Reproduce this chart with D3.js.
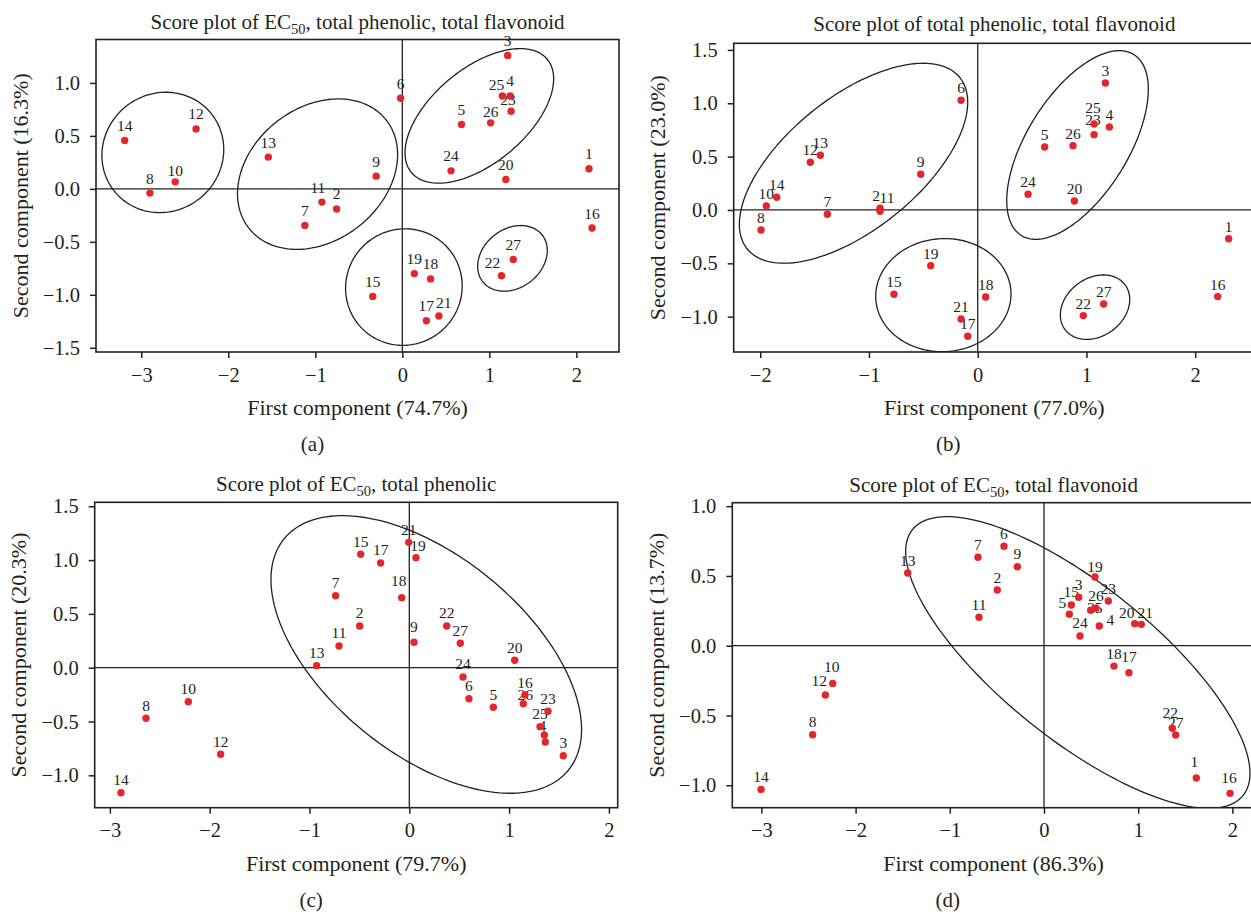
<!DOCTYPE html>
<html>
<head>
<meta charset="utf-8">
<script src="https://cdn.jsdelivr.net/npm/d3@7.9.0/dist/d3.min.js"></script>
<style>
  body { margin: 0; background: #fff; }
  svg text { font-family: "Liberation Serif", "Times New Roman", serif; fill: #231f20; }
</style>
</head>
<body>
<svg id="chart" width="1251" height="912"></svg>
<script>
// sample numbers
const samples = d3.range(1, 28);

// (a) EC50, total phenolic, total flavonoid
const pc1A = [2.145, -0.755, 1.21, 1.24, 0.68, -0.02, -1.12, -2.90, -0.30, -2.61, -0.924, -2.37, -1.54, -3.19,
  -0.34, 2.18, 0.276, 0.325, 0.138, 1.19, 0.42, 1.14, 1.25, 0.56, 1.15, 1.015, 1.275];
const pc2A = [0.19, -0.19, 1.26, 0.877, 0.607, 0.856, -0.345, -0.04, 0.12, 0.066, -0.125, 0.566, 0.30, 0.457,
  -1.015, -0.37, -1.245, -0.85, -0.80, 0.088, -1.20, -0.82, 0.733, 0.17, 0.877, 0.623, -0.666];

// (b) total phenolic, total flavonoid
const pc1B = [2.308, -0.898, 1.174, 1.211, 0.616, -0.153, -1.383, -1.993, -0.524, -1.944, -0.898, -1.539, -1.447, -1.848,
  -0.770, 2.207, -0.092, 0.073, -0.432, 0.889, -0.153, 0.971, 1.070, 0.463, 1.070, 0.876, 1.158];
const pc2B = [-0.269, 0.016, 1.190, 0.778, 0.590, 1.028, -0.040, -0.187, 0.335, 0.037, -0.012, 0.447, 0.513, 0.119,
  -0.790, -0.812, -1.184, -0.815, -0.522, 0.084, -1.022, -0.990, 0.706, 0.147, 0.806, 0.603, -0.881];

// (c) EC50, total phenolic
const pc1C = [1.363, -0.497, 1.543, 1.353, 0.842, 0.598, -0.738, -2.638, 0.047, -2.214, -0.704, -1.890, -0.928, -2.889,
  -0.487, 1.159, -0.287, -0.076, 0.067, 1.056, -0.006, 0.375, 1.390, 0.538, 1.310, 1.142, 0.511];
const pc2C = [-0.690, 0.388, -0.818, -0.625, -0.368, -0.288, 0.669, -0.470, 0.236, -0.316, 0.202, -0.805, 0.019, -1.162,
  1.054, -0.254, 0.973, 0.651, 1.022, 0.069, 1.165, 0.388, -0.405, -0.086, -0.548, -0.335, 0.227];

// (d) EC50, total flavonoid
const pc1D = [1.617, -0.496, 0.368, 0.587, 0.269, -0.425, -0.701, -2.456, -0.283, -2.243, -0.690, -2.321, -1.447, -3.004,
  0.290, 1.975, 0.902, 0.743, 0.541, 0.963, 1.033, 1.362, 0.683, 0.382, 0.496, 0.552, 1.398];
const pc2D = [-0.948, 0.399, 0.347, 0.141, 0.225, 0.713, 0.634, -0.638, 0.566, -0.270, 0.204, -0.353, 0.521, -1.030,
  0.292, -1.058, -0.194, -0.146, 0.492, 0.158, 0.153, -0.592, 0.320, 0.070, 0.254, 0.268, -0.640];

// group ellipses: [centre x, centre y, half width, half height, correlation]
const ellA = [[-2.752, 0.344, 0.70, 0.568, 0.05], [-0.974, 0.139, 0.92, 0.71, 0.26], [0.885, 0.689, 0.854, 0.635, 0.55],
  [0.018, -0.927, 0.67, 0.55, 0.02], [1.266, -0.656, 0.40, 0.31, 0.24]];
const ellB = [[-1.142, 0.438, 1.050, 0.937, 0.61], [0.918, 0.609, 0.651, 0.884, 0.59],
  [-0.316, -0.798, 0.622, 0.53, 0.02], [1.079, -0.911, 0.319, 0.302, 0.24]];
const ellC = [[0.170, 0.123, 1.556, 1.290, -0.54]];
const ellD = [[0.359, -0.120, 1.828, 1.045, -0.76]];

// titles: [before subscript, subscript, after]
const titleA = ['Score plot of EC', '50', ', total phenolic, total flavonoid'];
const titleB = ['Score plot of total phenolic, total flavonoid', '', ''];
const titleC = ['Score plot of EC', '50', ', total phenolic'];
const titleD = ['Score plot of EC', '50', ', total flavonoid'];

const xLabels = ['First component (74.7%)', 'First component (77.0%)', 'First component (79.7%)', 'First component (86.3%)'];
const yLabels = ['Second component (16.3%)', 'Second component (23.0%)', 'Second component (20.3%)', 'Second component (13.7%)'];
const tags = ['(a)', '(b)', '(c)', '(d)'];

const xTicksA = [-3, -2, -1, 0, 1, 2];
const yTicksA = [-1.5, -1, -0.5, 0, 0.5, 1];
const xTicksB = [-2, -1, 0, 1, 2];
const yTicksB = [-1, -0.5, 0, 0.5, 1, 1.5];
const xTicksC = [-3, -2, -1, 0, 1, 2];
const yTicksC = [-1, -0.5, 0, 0.5, 1, 1.5];
const xTicksD = [-3, -2, -1, 0, 1, 2];
const yTicksD = [-1, -0.5, 0, 0.5, 1];

// label nudges where a number is not sitting straight above its dot
const nudgeA = { 25: [-6, -6], 22: [-9, -8], 23: [-3, -6], 10: [0, -6], 26: [0, -6], 21: [5, -8], 11: [-4, -9] };
const nudgeB = { 11: [7, -8], 2: [-4, -7], 25: [-1, -10.5], 23: [-1, -9.5] };
const nudgeC = { 18: [-3, -12], 9: [0, -10.5], 26: [2, -4], 4: [-2, -3.5], 1: [0, 3], 19: [2, -7] };
const nudgeD = { 25: [4, 3], 4: [11, -1], 5: [-7, -6], 20: [-8, -5.5], 21: [4, -6], 12: [-6, -9], 10: [-1, -11.5],
  17: [0, -11], 22: [-2, -10.5], 1: [-2, -10.5], 16: [-1, -10], 19: [0, -5] };

const panels = [
  { key: 'a', px: pc1A, py: pc2A, ell: ellA, title: titleA, xt: xTicksA, yt: yTicksA, nudge: nudgeA, dy: -9.5,
    box: [96, 39.5, 619, 352], xDom: [-3.52, 2.49], yDom: [-1.54, 1.41], titleGap: 11 },
  { key: 'b', px: pc1B, py: pc2B, ell: ellB, title: titleB, xt: xTicksB, yt: yTicksB, nudge: nudgeB, dy: -7,
    box: [733.7, 43.3, 1255, 352], xDom: [-2.244, 2.55], yDom: [-1.331, 1.562], titleGap: 12.5 },
  { key: 'c', px: pc1C, py: pc2C, ell: ellC, title: titleC, xt: xTicksC, yt: yTicksC, nudge: nudgeC, dy: -7.5,
    box: [94.7, 502.3, 617.7, 807.7], xDom: [-3.152, 2.088], yDom: [-1.301, 1.537], titleGap: 11 },
  { key: 'd', px: pc1D, py: pc2D, ell: ellD, title: titleD, xt: xTicksD, yt: yTicksD, nudge: nudgeD, dy: -7.5,
    box: [732.3, 502.7, 1255, 807.7], xDom: [-3.309, 2.24], yDom: [-1.161, 1.025], titleGap: 11 }
];

const svg = d3.select('#chart');
const ink = '#231f20';
const red = '#e3262b';

panels.forEach((p, k) => {
  const [x0, y0, x1, y1] = p.box;
  const x = d3.scaleLinear().domain(p.xDom).range([x0, x1]);
  const y = d3.scaleLinear().domain(p.yDom).range([y1, y0]);
  const g = svg.append('g');

  const clipId = 'clip-' + p.key;
  svg.append('clipPath').attr('id', clipId).append('rect')
    .attr('x', x0).attr('y', y0).attr('width', x1 - x0).attr('height', y1 - y0);

  // zero reference lines
  g.append('line').attr('x1', x0).attr('x2', x1).attr('y1', y(0)).attr('y2', y(0))
    .attr('stroke', ink).attr('stroke-width', 1.3);
  g.append('line').attr('x1', x(0)).attr('x2', x(0)).attr('y1', y0).attr('y2', y1)
    .attr('stroke', ink).attr('stroke-width', 1.3);

  // ellipses
  const ring = d3.range(0, 360, 2).map(d => d * Math.PI / 180);
  const line = d3.line().curve(d3.curveLinearClosed);
  g.append('g').attr('clip-path', `url(#${clipId})`)
    .selectAll('path').data(p.ell).join('path')
    .attr('d', ([cx, cy, sx, sy, rho]) => {
      const del = Math.acos(rho);
      return line(ring.map(t => [x(cx + sx * Math.cos(t)), y(cy + sy * Math.cos(t - del))]));
    })
    .attr('fill', 'none').attr('stroke', ink).attr('stroke-width', 1.3);

  // axes
  const xAxis = g.append('g').attr('transform', `translate(0,${y1})`)
    .call(d3.axisBottom(x).tickValues(p.xt).tickFormat(d3.format('d')).tickSize(6).tickPadding(9));
  const yAxis = g.append('g').attr('transform', `translate(${x0},0)`)
    .call(d3.axisLeft(y).tickValues(p.yt).tickFormat(d3.format('.1f')).tickSize(6).tickPadding(10));
  [xAxis, yAxis].forEach(a => {
    a.select('.domain').remove();
    a.selectAll('line').attr('stroke', ink).attr('stroke-width', 1.5);
    a.selectAll('text').style('font-size', '20.5px').attr('fill', ink);
  });

  // frame
  g.append('rect').attr('x', x0).attr('y', y0).attr('width', x1 - x0).attr('height', y1 - y0)
    .attr('fill', 'none').attr('stroke', ink).attr('stroke-width', 1.6);

  // points and numbers
  const pts = samples.map((s, i) => ({ id: s, vx: p.px[i], vy: p.py[i] }));
  g.append('g').selectAll('text').data(pts).join('text')
    .attr('x', d => x(d.vx) + (p.nudge[d.id] ? p.nudge[d.id][0] : 0))
    .attr('y', d => y(d.vy) + (p.nudge[d.id] ? p.nudge[d.id][1] : p.dy))
    .attr('text-anchor', 'middle').style('font-size', '15.5px')
    .text(d => d.id);
  g.append('g').selectAll('circle').data(pts).join('circle')
    .attr('cx', d => x(d.vx)).attr('cy', d => y(d.vy)).attr('r', 3.7).attr('fill', red);

  // titles and labels
  const cx = (x0 + x1) / 2;
  const t = g.append('text').attr('x', cx).attr('y', y0 - p.titleGap).attr('text-anchor', 'middle')
    .style('font-size', '21px');
  t.append('tspan').text(p.title[0]);
  if (p.title[1]) {
    t.append('tspan').attr('dy', 5).style('font-size', '14.5px').text(p.title[1]);
    t.append('tspan').attr('dy', -5).text(p.title[2]);
  }
  g.append('text').attr('x', cx).attr('y', y1 + 63).attr('text-anchor', 'middle')
    .style('font-size', '22px').text(xLabels[k]);
  g.append('text').attr('transform', `translate(${x0 - 76},${(y0 + y1) / 2}) rotate(-90)`)
    .attr('dy', '0.35em').attr('text-anchor', 'middle').style('font-size', '22px').text(yLabels[k]);
  g.append('text').attr('x', (x0 + (k % 2 ? 1253 : x1)) / 2 - 45).attr('y', y1 + 99).attr('text-anchor', 'middle')
    .style('font-size', '21px').text(tags[k]);
});
</script>
</body>
</html>
